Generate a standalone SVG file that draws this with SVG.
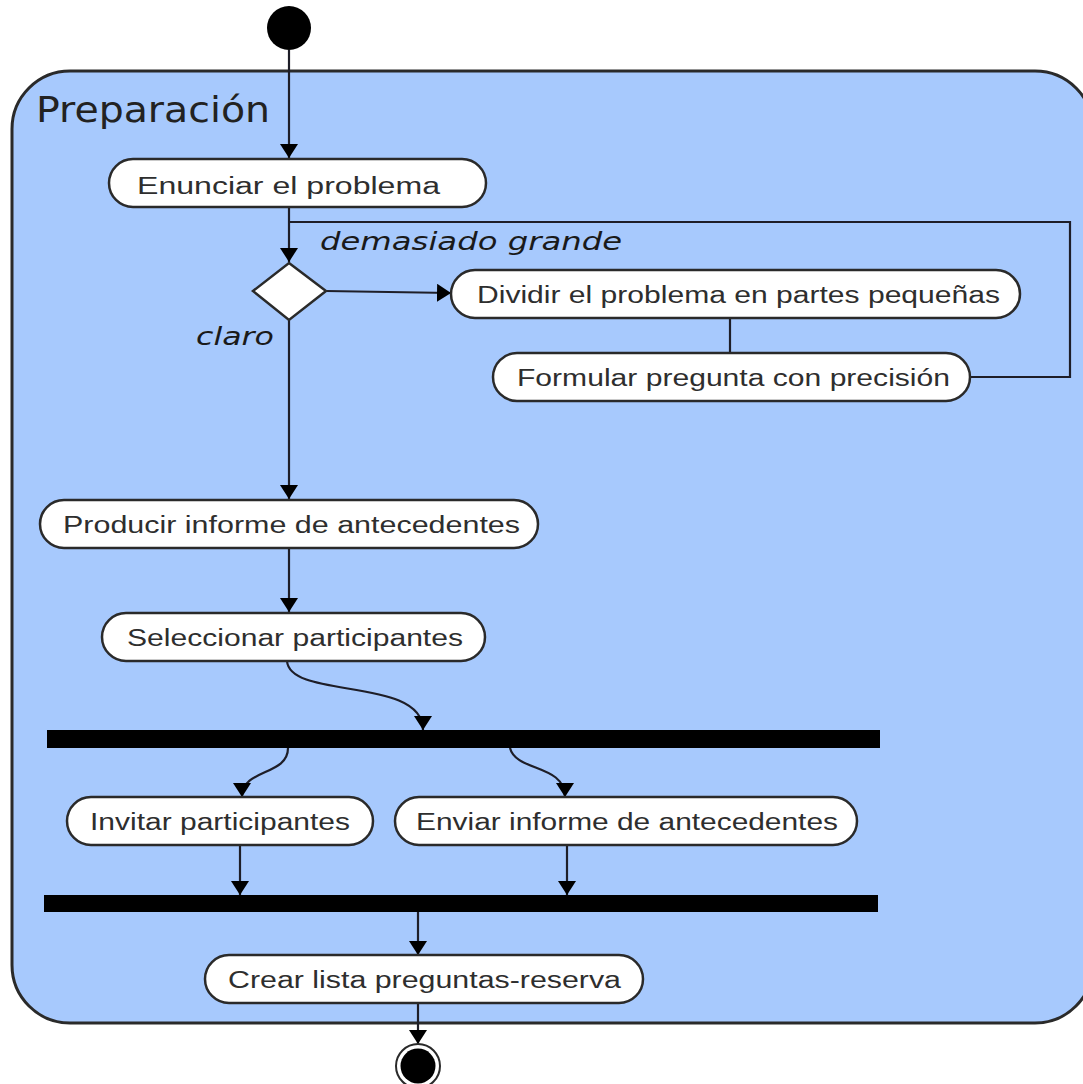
<svg xmlns="http://www.w3.org/2000/svg" width="1083" height="1084" viewBox="0 0 1083 1084">
  <style>
    .act rect { fill: #ffffff; stroke: #2a2a2a; stroke-width: 2.5; }
    .act text { font-family: "Liberation Sans", Arial, sans-serif; font-size: 23px; fill: #2e2e2e; text-anchor: start; }
    .edge { fill: none; stroke: #1e1e28; stroke-width: 2.2; }
    .guard { font-family: "DejaVu Sans", sans-serif; font-style: italic; font-size: 24px; fill: #1a1a1a; }
    .bar { fill: #000000; }
  </style>
  <defs>
    <marker id="arrow" viewBox="0 0 14 18" refX="14" refY="9" markerWidth="14" markerHeight="18" markerUnits="userSpaceOnUse" orient="auto">
      <path d="M0,0 L14,9 L0,18 z" fill="#000000"/>
    </marker>
  </defs>

  <rect width="1083" height="1084" fill="#ffffff"/>

  <!-- Activity partition -->
  <g id="preparacion">
    <rect x="12" y="71" width="1081" height="952" rx="58" ry="58" fill="#a7c9fd" stroke="#2a2a2a" stroke-width="3"/>
    <text x="36" y="122" font-family="DejaVu Sans, sans-serif" font-size="35" fill="#222222" textLength="234" lengthAdjust="spacingAndGlyphs">Preparación</text>
  </g>

  <!-- Connectors -->
  <g id="connectors">
    <path class="edge" d="M289,50 L289,158" marker-end="url(#arrow)"/>
    <path class="edge" d="M289,208 L289,262" marker-end="url(#arrow)"/>
    <path class="edge" d="M970,377 L1070,377 L1070,222 L289,222"/>
    <path class="edge" d="M326,291 L451,293" marker-end="url(#arrow)"/>
    <path class="edge" d="M730,318 L730,353"/>
    <path class="edge" d="M289,320 L289,499" marker-end="url(#arrow)"/>
    <path class="edge" d="M289,548 L289,612" marker-end="url(#arrow)"/>
    <path class="edge" d="M287,661 C290,700 423,676 423,730" marker-end="url(#arrow)"/>
    <path class="edge" d="M288,748 C288,776 242,768 242,797" marker-end="url(#arrow)"/>
    <path class="edge" d="M510,748 C516,772 565,764 565,797" marker-end="url(#arrow)"/>
    <path class="edge" d="M240,845 L240,895" marker-end="url(#arrow)"/>
    <path class="edge" d="M567,845 L567,895" marker-end="url(#arrow)"/>
    <path class="edge" d="M418,912 L418,955" marker-end="url(#arrow)"/>
    <path class="edge" d="M418,1003 L418,1044" marker-end="url(#arrow)"/>
    <text class="guard" x="320" y="250" textLength="302" lengthAdjust="spacingAndGlyphs">demasiado grande</text>
    <text class="guard" x="196" y="345" textLength="78" lengthAdjust="spacingAndGlyphs">claro</text>
  </g>

  <!-- Initial node -->
  <g id="inicio">
    <circle cx="289" cy="28" r="22" fill="#000000"/>
  </g>

  <!-- Decision -->
  <g id="decision">
    <polygon points="289,263 326,291 289,320 253,291" fill="#ffffff" stroke="#2a2a2a" stroke-width="2.5"/>
  </g>

  <g id="enunciar" class="act">
    <rect x="109" y="159" width="377" height="48" rx="24"/>
    <text x="137" y="194" font-size="26" textLength="303" lengthAdjust="spacingAndGlyphs">Enunciar el problema</text>
  </g>

  <g id="dividir" class="act">
    <rect x="451" y="270" width="569" height="48" rx="24"/>
    <text x="477" y="303" textLength="523" lengthAdjust="spacingAndGlyphs">Dividir el problema en partes pequeñas</text>
  </g>

  <g id="formular" class="act">
    <rect x="493" y="353" width="477" height="48" rx="24"/>
    <text x="517" y="386" textLength="433" lengthAdjust="spacingAndGlyphs">Formular pregunta con precisión</text>
  </g>

  <g id="producir" class="act">
    <rect x="40" y="500" width="498" height="48" rx="24"/>
    <text x="63" y="533" textLength="457" lengthAdjust="spacingAndGlyphs">Producir informe de antecedentes</text>
  </g>

  <g id="seleccionar" class="act">
    <rect x="102" y="613" width="383" height="48" rx="24"/>
    <text x="127" y="646" textLength="336" lengthAdjust="spacingAndGlyphs">Seleccionar participantes</text>
  </g>

  <g id="fork">
    <rect class="bar" x="47" y="730" width="833" height="18"/>
  </g>

  <g id="invitar" class="act">
    <rect x="67" y="797" width="306" height="48" rx="24"/>
    <text x="90" y="830" textLength="260" lengthAdjust="spacingAndGlyphs">Invitar participantes</text>
  </g>

  <g id="enviar" class="act">
    <rect x="395" y="797" width="462" height="48" rx="24"/>
    <text x="416" y="830" textLength="422" lengthAdjust="spacingAndGlyphs">Enviar informe de antecedentes</text>
  </g>

  <g id="join">
    <rect class="bar" x="44" y="895" width="834" height="17"/>
  </g>

  <g id="crear" class="act">
    <rect x="205" y="955" width="438" height="48" rx="24"/>
    <text x="228" y="988" textLength="393" lengthAdjust="spacingAndGlyphs">Crear lista preguntas-reserva</text>
  </g>

  <!-- Final node -->
  <g id="fin">
    <circle cx="418" cy="1066" r="22" fill="#ffffff" stroke="#2a2a2a" stroke-width="2"/>
    <circle cx="418" cy="1066" r="17.5" fill="#000000"/>
  </g>
</svg>
